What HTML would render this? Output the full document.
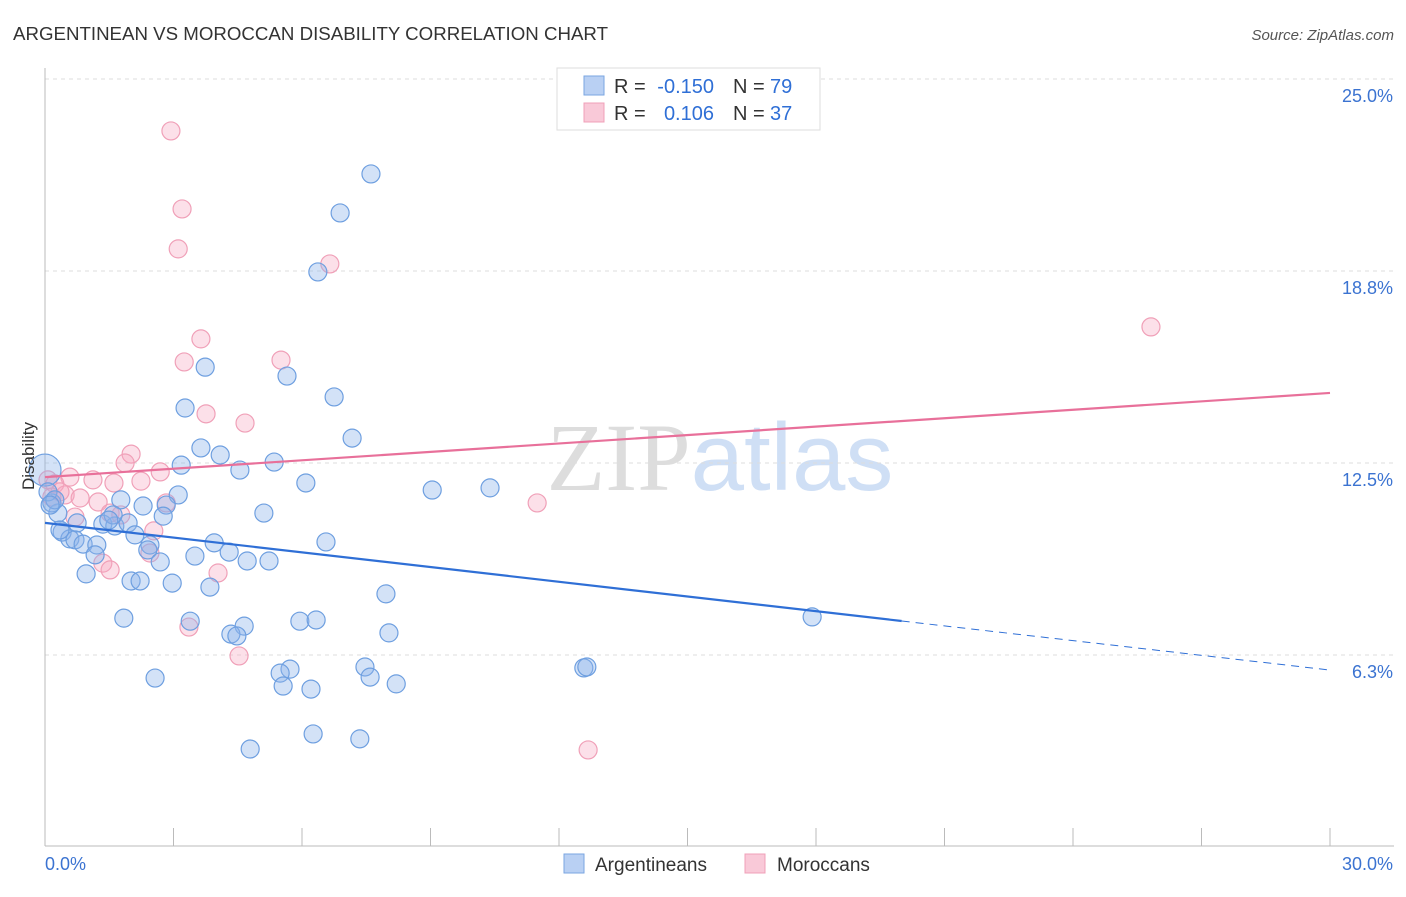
<!DOCTYPE html>
<html><head><meta charset="utf-8"><style>
body{margin:0;background:#fff;font-family:"Liberation Sans",sans-serif}
svg text{font-family:"Liberation Sans",sans-serif}
</style></head><body>
<svg id="chart" width="1406" height="892" xmlns="http://www.w3.org/2000/svg">
<text x="13" y="40" font-size="18.5" fill="#333" textLength="595" lengthAdjust="spacingAndGlyphs">ARGENTINEAN VS MOROCCAN DISABILITY CORRELATION CHART</text>
<text x="1394" y="40" font-size="15" fill="#555" text-anchor="end" font-style="italic">Source: ZipAtlas.com</text>
<text x="720" y="490" font-size="96" text-anchor="middle"><tspan fill="#ddd" font-family="Liberation Serif">ZIP</tspan><tspan fill="#cfdff5">atlas</tspan></text>
<g id="grid"></g>
<g id="axes"></g>
<g id="pts"></g>
<g id="trend"></g>
<text transform="translate(34,456) rotate(-90)" font-size="17" fill="#333" text-anchor="middle">Disability</text>
<g>
<rect x="557" y="68" width="263" height="62" fill="#fff" stroke="#ddd"/>
<rect x="584" y="76" width="20" height="19" fill="#b9d0f3" stroke="#7aa6e2"/>
<text x="614" y="93" font-size="20" fill="#333">R =</text>
<text x="714" y="93" font-size="20" fill="#2f6fd6" text-anchor="end">-0.150</text>
<text x="733" y="93" font-size="20" fill="#333">N =</text>
<text x="770" y="93" font-size="20" fill="#2f6fd6">79</text>
<rect x="584" y="103" width="20" height="19" fill="#f9c9d8" stroke="#f0a0b8"/>
<text x="614" y="120" font-size="20" fill="#333">R =</text>
<text x="714" y="120" font-size="20" fill="#2f6fd6" text-anchor="end">0.106</text>
<text x="733" y="120" font-size="20" fill="#333">N =</text>
<text x="770" y="120" font-size="20" fill="#2f6fd6">37</text>
</g>
<g>
<rect x="564" y="854" width="20" height="19" fill="#b9d0f3" stroke="#7aa6e2"/>
<text x="595" y="871" font-size="19" fill="#333">Argentineans</text>
<rect x="745" y="854" width="20" height="19" fill="#f9c9d8" stroke="#f0a0b8"/>
<text x="777" y="871" font-size="19" fill="#333">Moroccans</text>
</g>
</svg>
<script>
const yTicks=[25.0,18.75,12.5,6.25];
const yTickLabels=["25.0%","18.8%","12.5%","6.3%"];
const xTickCount=[0,3,6,9,12,15,18,21,24,27,30];
const blueX=[7.61,6.89,6.37,3.74,5.65,6.75,3.27,7.17,3.64,4.09,3.18,5.35,4.55,6.09,9.04,10.39,3.11,1.77,2.29,2.83,5.11,2.76,0.30,0.16,0.40,0.58,0.70,0.89,1.21,1.17,1.35,0.75,1.63,1.94,1.59,2.10,2.45,2.40,3.95,4.30,3.50,4.72,5.23,6.56,2.69,0.96,2.01,2.22,2.97,3.85,7.96,1.84,3.39,4.65,5.95,6.33,4.34,4.48,8.03,17.91,12.58,12.65,7.47,7.59,5.72,5.49,5.56,6.21,8.20,2.57,4.79,6.26,7.35,0,0.07,0.23,1.49,0.12,0.35];
const blueY=[21.91,20.64,18.72,15.62,15.33,14.65,14.29,13.31,12.99,12.76,12.43,12.53,12.27,11.85,11.62,11.69,11.46,11.30,11.10,11.13,10.87,10.77,10.87,11.20,10.25,10.03,10.0,9.86,9.83,9.51,10.51,10.55,10.45,10.55,10.81,10.16,9.83,9.67,9.90,9.60,9.47,9.31,9.31,9.93,9.28,8.89,8.66,8.66,8.59,8.46,8.24,7.45,7.35,7.19,7.35,7.39,6.93,6.87,6.97,7.49,5.83,5.86,5.86,5.53,5.79,5.66,5.24,5.14,5.31,5.50,3.19,3.68,3.52,12.27,11.56,11.30,10.64,11.13,10.32];
const pinkX=[2.94,3.20,3.11,6.65,25.82,3.64,3.25,5.51,3.76,4.67,2.01,1.87,2.69,0.58,1.12,1.61,2.24,0.23,0.16,0.47,0.82,1.24,1.52,0.70,1.77,2.54,2.45,1.35,1.52,4.04,3.36,4.53,11.49,12.68,0.07,0.35,2.83];
const pinkY=[23.31,20.77,19.47,18.98,16.93,16.54,15.79,15.85,14.10,13.80,12.79,12.5,12.21,12.04,11.95,11.85,11.91,11.82,11.39,11.46,11.36,11.23,10.87,10.74,10.81,10.29,9.57,9.24,9.02,8.92,7.16,6.22,11.20,3.16,11.95,11.56,11.20];
const blueTrend=[10.55,5.76]; const blueSolidEnd=20.0;
const pinkTrend=[12.04,14.78];
const NS="http://www.w3.org/2000/svg";
const X=v=>45+v*(1285/30), Y=v=>79+(25-v)*30.72;
function mk(t,a,p){const e=document.createElementNS(NS,t);for(const k in a)e.setAttribute(k,a[k]);p.appendChild(e);return e;}
const grid=document.getElementById('grid'),axes=document.getElementById('axes'),pts=document.getElementById('pts'),tr=document.getElementById('trend');
yTicks.forEach((t,i)=>{
 const l=mk('line',{x1:45,x2:1394,y1:Y(t),y2:Y(t),stroke:'#ddd','stroke-dasharray':'4,4'},grid);
 
 
 const tx=mk('text',{x:1393,y:Y(t)+23,'font-size':18,fill:'#3b73d1','text-anchor':'end'},grid);
 tx.textContent=yTickLabels[i];
 
 
});
mk('line',{x1:45,x2:45,y1:68,y2:846,stroke:'#bbb'},axes);
mk('line',{x1:45,x2:1394,y1:846,y2:846,stroke:'#bbb'},axes);
xTickCount.forEach(t=>{const l=mk('line',{x1:X(t),x2:X(t),y1:828,y2:846,stroke:'#bbb'},axes);
 
 });
let a=mk('text',{x:45,y:870,'font-size':18,fill:'#3b73d1'},axes);a.textContent='0.0%';

a=mk('text',{x:1393,y:870,'font-size':18,fill:'#3b73d1','text-anchor':'end'},axes);a.textContent='30.0%';

function dots(xs,ys,fill,stroke,name){xs.forEach((x,i)=>{const r=(x===0)?16:9;
 const c=mk('circle',{cx:X(x),cy:Y(ys[i]),r:r,fill:fill,stroke:stroke,'stroke-width':1.2},pts);
 
 });}
dots(pinkX,pinkY,'rgba(245,165,192,0.35)','#f0a0b8','moroccan-point');
dots(blueX,blueY,'rgba(140,180,235,0.38)','#6e9fe0','argentinean-point');
const bAt=x=>blueTrend[0]+(blueTrend[1]-blueTrend[0])*x/30;
let l=mk('line',{x1:X(0),y1:Y(bAt(0)),x2:X(blueSolidEnd),y2:Y(bAt(blueSolidEnd)),stroke:'#2f6fd6','stroke-width':2.2},tr);

l=mk('line',{x1:X(blueSolidEnd),y1:Y(bAt(blueSolidEnd)),x2:X(30),y2:Y(bAt(30)),stroke:'#2f6fd6','stroke-width':1,'stroke-dasharray':'8,6'},tr);

l=mk('line',{x1:X(0),y1:Y(pinkTrend[0]),x2:X(30),y2:Y(pinkTrend[1]),stroke:'#e8709a','stroke-width':2.2},tr);

</script>
</body></html>
